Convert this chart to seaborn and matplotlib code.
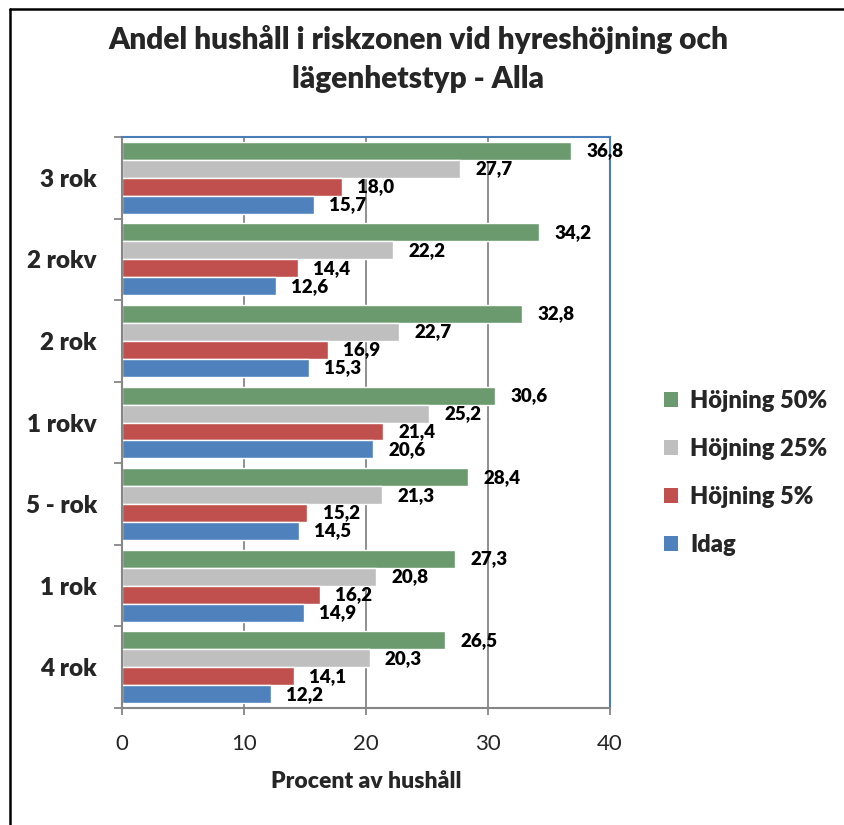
import matplotlib
matplotlib.use("Agg")
import matplotlib.pyplot as plt
import seaborn as sns
import pandas as pd
from matplotlib.patches import Patch
from matplotlib.lines import Line2D

categories = ["3 rok", "2 rokv", "2 rok", "1 rokv", "5 - rok", "1 rok", "4 rok"]
series_names = ["Höjning 50%", "Höjning 25%", "Höjning 5%", "Idag"]
hojning50 = [36.8, 34.2, 32.8, 30.6, 28.4, 27.3, 26.5]
hojning25 = [27.7, 22.2, 22.7, 25.2, 21.3, 20.8, 20.3]
hojning5 = [18.0, 14.4, 16.9, 21.4, 15.2, 16.2, 14.1]
idag = [15.7, 12.6, 15.3, 20.6, 14.5, 14.9, 12.2]
xticks = [0, 10, 20, 30, 40]
title = "Andel hushåll i riskzonen vid hyreshöjning och\nlägenhetstyp - Alla"
xlabel = "Procent av hushåll"

colors = {"Höjning 50%": "#6B9A6F", "Höjning 25%": "#BFBFBF",
          "Höjning 5%": "#C0504D", "Idag": "#4F81BD"}

rows = []
for name, vals in zip(series_names, [hojning50, hojning25, hojning5, idag]):
    for c, v in zip(categories, vals):
        rows.append({"Kategori": c, "Serie": name, "Värde": v})
df = pd.DataFrame(rows)

sns.set_theme(style="white")
plt.rcParams["font.family"] = ["Lato", "DejaVu Sans"]
BOLD = "heavy"

fig = plt.figure(figsize=(8.45, 8.25), dpi=100)
ax = fig.add_axes([122/845, 1-708/825, (610-122)/845, (708-137)/825])

sns.barplot(data=df, y="Kategori", x="Värde", hue="Serie", order=categories,
            hue_order=series_names, palette=colors, orient="h", ax=ax,
            width=0.88, saturation=1, legend=False, errorbar=None)

for cont in ax.containers:
    ax.bar_label(cont, labels=[f"{v:.1f}".replace(".", ",") for v in cont.datavalues],
                 padding=11, fontsize=13.5, fontweight=BOLD, color="black")

ax.set_xlim(0, 40)
ax.set_ylim(len(categories)-0.5, -0.5)
ax.set_xticks(xticks)
ax.set_xticklabels([str(t) for t in xticks], fontsize=16)
ax.tick_params(axis="x", direction="out", length=5, width=1.3, color="#868686", pad=14, bottom=True)
ax.set_yticks(range(len(categories)))
ax.set_yticklabels(categories, fontsize=17.5, fontweight=BOLD)
ax.set_yticks([i - 0.5 for i in range(len(categories)+1)], minor=True)
ax.tick_params(axis="y", which="major", length=0, pad=18)
ax.tick_params(axis="y", which="minor", direction="out", length=6, width=1.3, color="#868686", left=True)
ax.xaxis.grid(True, color="#868686", linewidth=1.3)
ax.set_axisbelow(True)
ax.set_ylabel("")
ax.set_xlabel(xlabel, fontsize=16.5, fontweight=BOLD, labelpad=12)
for s in ["left", "bottom"]:
    ax.spines[s].set_color("#868686")
    ax.spines[s].set_linewidth(1.5)
for s in ["top", "right"]:
    ax.spines[s].set_color("#4A7EBB")
    ax.spines[s].set_linewidth(1.5)
    ax.spines[s].set_visible(True)

fig.text(418/845, 1-59/825, title, ha="center", va="center", fontsize=21.5,
         fontweight=BOLD, linespacing=1.5)

handles = [Patch(facecolor=colors[n], edgecolor="none") for n in series_names]
fig.legend(handles, series_names, loc="center left", bbox_to_anchor=(643/845, 1-473/825),
           frameon=False, prop={"size": 17, "weight": BOLD}, handlelength=0.6,
           handleheight=0.6, labelspacing=1.1, handletextpad=0.5)

fig.add_artist(Line2D([10/845, 10/845], [0, 1-9/825], color="black", linewidth=1.8))
fig.add_artist(Line2D([10/845, 1], [1-9/825, 1-9/825], color="black", linewidth=1.8))

fig.savefig("out.png", dpi=100)
